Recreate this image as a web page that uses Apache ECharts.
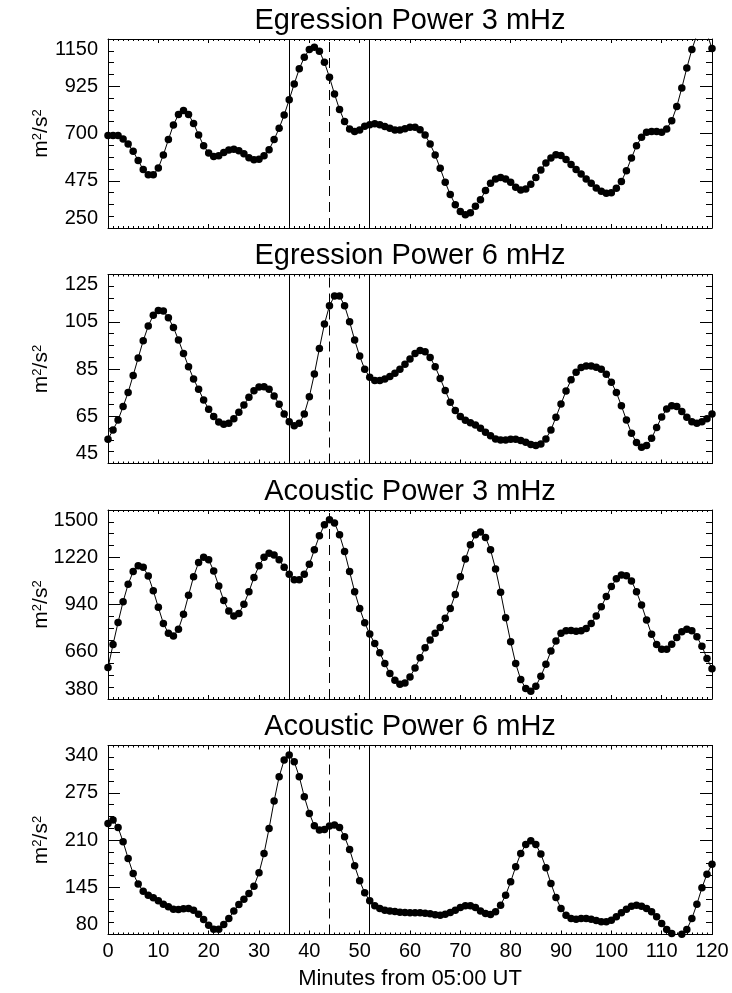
<!DOCTYPE html>
<html><head><meta charset="utf-8">
<script src="https://cdn.jsdelivr.net/npm/echarts@6/dist/echarts.min.js"></script>
<style>html,body{margin:0;padding:0;background:#fff}#c{width:732px;height:993px}</style>
</head><body><div id="c"></div>
<script>
// ---- data ----
const minutes = [0,1,2,3,4,5,6,7,8,9,10,11,12,13,14,15,16,17,18,19,20,21,22,23,24,25,26,27,28,29,30,31,32,33,34,35,36,37,38,39,40,41,42,43,44,45,46,47,48,49,50,51,52,53,54,55,56,57,58,59,60,61,62,63,64,65,66,67,68,69,70,71,72,73,74,75,76,77,78,79,80,81,82,83,84,85,86,87,88,89,90,91,92,93,94,95,96,97,98,99,100,101,102,103,104,105,106,107,108,109,110,111,112,113,114,115,116,117,118,119,120];

const egression3 = [690,690,690,674,650,615,571,528,503,503,
536,598,671,741,790,809,791,748,693,642,
607,591,594,610,622,625,618,603,585,575,
577,594,623,671,725,788,861,936,1008,1063,
1100,1111,1092,1039,968,888,814,757,722,710,
717,734,742,747,742,733,725,717,717,723,
730,730,718,693,650,598,534,468,409,361,
329,313,323,353,385,428,463,483,491,483,
468,444,431,436,458,490,526,560,583,599,
595,576,552,528,507,483,463,441,425,415,
418,439,472,523,583,642,682,706,710,709,
706,722,761,828,917,1012,1100,1170,1195,1175,
1105];

const egression6 = [55.3,59.2,63.4,69.1,75.1,82.3,89.7,97.0,103.2,107.8,
109.8,109.5,106.7,102.6,97.3,91.6,86.0,80.8,76.4,71.9,
68.0,64.9,62.6,61.6,62.0,63.9,66.7,69.8,73.0,75.8,
77.4,77.5,76.4,73.6,70.1,66.0,62.7,61.0,62.0,66.0,
73.3,82.9,93.7,104.0,111.8,115.9,115.9,111.8,105.0,97.3,
90.5,84.9,81.5,80.1,80.1,80.8,81.8,83.2,84.9,87.0,
89.2,91.6,92.8,92.3,89.9,86.0,81.0,75.9,70.9,67.4,
64.9,63.3,62.3,61.3,59.9,58.2,56.7,55.4,55.0,55.0,
55.3,55.3,54.7,54.0,53.0,52.6,53.3,55.4,59.2,64.6,
70.2,75.7,80.4,83.6,85.6,86.3,86.3,85.7,84.9,82.8,
79.4,75.1,69.4,63.4,57.8,53.9,51.9,52.6,55.7,60.2,
64.7,68.1,69.4,69.1,67.0,64.6,62.7,62.0,62.7,63.9,
66.0];

const acoustic3 = [566,703,834,957,1060,1135,1169,1161,1109,1022,
923,828,769,753,794,882,995,1105,1189,1220,
1205,1139,1050,963,901,872,887,941,1016,1100,
1169,1220,1244,1234,1205,1161,1119,1086,1086,1119,
1179,1264,1347,1413,1442,1423,1353,1254,1135,1016,
917,832,765,709,654,590,531,491,467,475,
511,564,624,683,729,769,804,858,917,1000,
1105,1209,1294,1353,1369,1337,1264,1151,1012,862,
719,590,495,442,426,455,515,586,664,723,
769,784,786,782,784,798,828,872,927,987,
1046,1092,1115,1111,1080,1016,937,848,763,703,
675,675,705,745,779,794,784,749,693,620,
560];

const acoustic6 = [232.8,237.4,227.3,207.6,184.6,164.0,149.3,139.6,134.1,130.4,
126.3,121.7,118.1,114.8,114.4,115.3,115.8,113.5,108.0,100.6,
92.8,87.3,87.3,93.7,102.0,112.5,121.3,128.6,136.4,146.5,
164.9,191.5,225.9,263.6,297.1,320.0,326.9,317.7,297.1,269.5,
246.6,229.6,223.6,224.5,229.1,230.5,227.3,214.4,197.0,174.5,
153.9,137.3,126.3,119.4,115.8,113.5,112.5,111.6,110.7,110.2,
109.8,109.8,109.8,109.3,108.4,107.0,106.6,108.0,110.2,113.5,
117.1,119.4,119.4,117.1,112.5,108.9,107.5,111.2,120.3,134.1,
152.5,173.1,191.5,203.9,208.9,203.9,190.6,171.8,150.2,130.9,
115.8,106.6,102.0,101.1,102.0,102.0,101.1,99.2,97.4,97.4,
99.7,104.3,109.8,114.8,119.0,120.3,119.0,115.8,111.2,104.3,
95.1,86.8,81.5,79.0,80.5,86.8,102.0,121.7,144.2,163.0,
176.8];

const panelTitles = ['Egression Power 3 mHz','Egression Power 6 mHz','Acoustic Power 3 mHz','Acoustic Power 6 mHz'];
const panelSeries = [egression3, egression6, acoustic3, acoustic6];
const yTicks1 = [250,475,700,925,1150];
const yTicks2 = [45,65,85,105,125];
const yTicks3 = [380,660,940,1220,1500];
const yTicks4 = [80,145,210,275,340];
const yTickSets = [yTicks1, yTicks2, yTicks3, yTicks4];
const xTicks = [0,10,20,30,40,50,60,70,80,90,100,110,120];
const solidMarks = [36, 52];
const dashedMarks = [44];
const xName = 'Minutes from 05:00 UT';

// ---- layout ----
const FONT = 'Liberation Sans';
const gridTops = [39, 274.5, 510, 745.5];
const gridH = 189;
const titleTops = [6, 241.5, 477, 712.5];

const chart = echarts.init(document.getElementById('c'), null, {renderer:'canvas'});
const grids = [], xAxes = [], yAxes = [], series = [], titles = [];
const black = '#000';

for (let i = 0; i < 4; i++) {
  grids.push({left:108, right:20, top:gridTops[i], height:gridH, outerBoundsMode:'none', containLabel:false});
  titles.push({text:panelTitles[i], left:410, top:titleTops[i], textAlign:'center', padding:0,
    textStyle:{fontFamily:FONT, fontSize:29, fontWeight:'normal', color:black}});
  const isLast = i === 3;
  const xBase = {
    type:'value', gridIndex:i, min:xTicks[0], max:xTicks[xTicks.length-1], interval:xTicks[1]-xTicks[0],
    axisLine:{show:true, onZero:false, lineStyle:{color:black, width:1}},
    axisTick:{show:true, inside:true, length:4, lineStyle:{color:black, width:1}},
    minorTick:{show:true, splitNumber:10, length:2, lineStyle:{color:black, width:1}},
    splitLine:{show:false}, minorSplitLine:{show:false}
  };
  xAxes.push(Object.assign({}, xBase, {position:'bottom',
    axisLabel:{show:isLast, color:black, fontFamily:FONT, fontSize:20, margin:7, formatter:v => String(v)},
    name: isLast ? xName : '', nameLocation:'middle', nameGap:33, nameMoveOverlap:false,
    nameTextStyle:{color:black, fontFamily:FONT, fontSize:22}}));
  xAxes.push(Object.assign({}, xBase, {position:'top', axisLabel:{show:false}}));
  const yt = yTickSets[i];
  const yBase = {
    type:'value', gridIndex:i, min:yt[0], max:yt[yt.length-1], interval:yt[1]-yt[0],
    axisLine:{show:true, onZero:false, lineStyle:{color:black, width:1}},
    axisTick:{show:true, inside:true, length:12, lineStyle:{color:black, width:1}},
    minorTick:{show:true, splitNumber:4, length:6, lineStyle:{color:black, width:1}},
    splitLine:{show:false}, minorSplitLine:{show:false}
  };
  yAxes.push(Object.assign({}, yBase, {position:'left',
    axisLabel:{show:true, color:black, fontFamily:FONT, fontSize:20, margin:10,
      formatter:v => String(v), verticalAlignMinLabel:'bottom', verticalAlignMaxLabel:'top'},
    name:'m{s|2}/s{s|2}', nameLocation:'middle', nameGap:56, nameRotate:90, nameMoveOverlap:false,
    nameTextStyle:{color:black, fontFamily:FONT, fontSize:21,
      rich:{s:{fontFamily:FONT, fontSize:13, color:black, verticalAlign:'top', lineHeight:21}}}}));
  yAxes.push(Object.assign({}, yBase, {position:'right', axisLabel:{show:false}}));

  const vals = panelSeries[i];
  const markData = [];
  solidMarks.forEach(m => markData.push({xAxis:m, lineStyle:{type:'solid', color:black, width:1}}));
  dashedMarks.forEach(m => markData.push({xAxis:m, lineStyle:{type:[10,6], color:black, width:1}}));
  series.push({
    type:'line', xAxisIndex:2*i, yAxisIndex:2*i,
    data: minutes.map((m,k) => [m, vals[k]]),
    symbol:'circle', symbolSize:7.5, showSymbol:true, showAllSymbol:true,
    itemStyle:{color:black}, lineStyle:{color:black, width:1},
    clip:true, animation:false, silent:true,
    emphasis:{disabled:true},
    markLine:{silent:true, symbol:['none','none'], label:{show:false}, animation:false,
      lineStyle:{color:black, width:1}, emphasis:{disabled:true}, data:markData}
  });
}

chart.setOption({
  backgroundColor:'#fff', animation:false,
  title:titles, grid:grids, xAxis:xAxes, yAxis:yAxes, series:series
});
</script>
</body></html>
